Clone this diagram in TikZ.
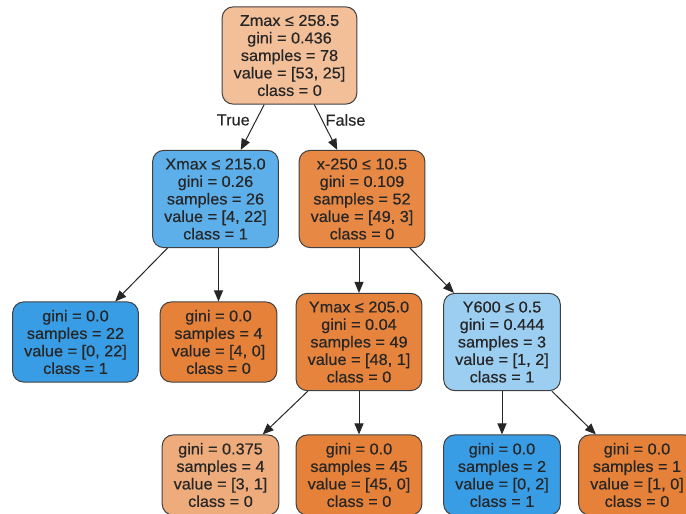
\documentclass[tikz,border=0pt]{standalone}
\usepackage{fontspec}
\setmainfont{Liberation Sans}[FakeStretch=1.03,FakeBold=0.4]
\usetikzlibrary{arrows.meta}
\definecolor{orpur}{HTML}{E58139}
\definecolor{blpur}{HTML}{399DE5}
\definecolor{orracine}{HTML}{F2BF99}
\definecolor{orx}{HTML}{E78945}
\definecolor{orymax}{HTML}{E6843D}
\definecolor{orclair}{HTML}{EEAB7B}
\definecolor{blxmax}{HTML}{5DAFEA}
\definecolor{blclair}{HTML}{9CCEF2}
\begin{document}
\begin{tikzpicture}[x=1pt,y=-1pt,
  noeud/.style={draw=black!75, line width=1pt, rounded corners=11pt, align=center,
    inner xsep=11.5pt, inner ysep=8pt, text=black!85,
    font=\fontsize{15.8}{17.5}\selectfont},
  arete/.style={draw=black!85, line width=1pt, -{Triangle[length=11pt,width=9pt]}},
  etiq/.style={inner sep=2pt, text=black!85, font=\fontsize{15.8}{17.5}\selectfont}]
\useasboundingbox (0,0) rectangle (686,514);
\clip (0,0) rectangle (686,514);
% racine
\node [noeud, fill=orracine] (racine) at (289.5,55.5) {Zmax ≤ 258.5\\gini = 0.436\\samples = 78\\value = [53, 25]\\class = 0};
% niveau 1
\node [noeud, fill=blxmax] (xmax) at (215.5,199) {Xmax ≤ 215.0\\gini = 0.26\\samples = 26\\value = [4, 22]\\class = 1};
\node [noeud, fill=orx] (x250) at (362,199) {x-250 ≤ 10.5\\gini = 0.109\\samples = 52\\value = [49, 3]\\class = 0};
% niveau 2
\node [noeud, fill=blpur] (f22) at (75.5,342) {gini = 0.0\\samples = 22\\value = [0, 22]\\class = 1};
\node [noeud, fill=orpur] (f4) at (218.5,342) {gini = 0.0\\samples = 4\\value = [4, 0]\\class = 0};
\node [noeud, fill=orymax] (ymax) at (359,342) {Ymax ≤ 205.0\\gini = 0.04\\samples = 49\\value = [48, 1]\\class = 0};
\node [noeud, fill=blclair] (y600) at (502,342) {Y600 ≤ 0.5\\gini = 0.444\\samples = 3\\value = [1, 2]\\class = 1};
% niveau 3
\node [noeud, fill=orclair] (f375) at (220.5,475) {gini = 0.375\\samples = 4\\value = [3, 1]\\class = 0};
\node [noeud, fill=orpur] (f45) at (359,475) {gini = 0.0\\samples = 45\\value = [45, 0]\\class = 0};
\node [noeud, fill=blpur] (f2) at (502,475) {gini = 0.0\\samples = 2\\value = [0, 2]\\class = 1};
\node [noeud, fill=orpur] (f1) at (637,475) {gini = 0.0\\samples = 1\\value = [1, 0]\\class = 0};
% aretes
\draw [arete] (racine) -- node [etiq, pos=0.34, left=4pt] {True} (xmax);
\draw [arete] (racine) -- node [etiq, pos=0.34, right=1pt] {False} (x250);
\draw [arete] (xmax) -- (f22);
\draw [arete] (xmax.south -| f4) -- (f4);
\draw [arete] (x250.south -| ymax) -- (ymax);
\draw [arete] (x250) -- (y600);
\draw [arete] (ymax) -- (f375);
\draw [arete] (ymax) -- (f45);
\draw [arete] (y600) -- (f2);
\draw [arete] (y600) -- (f1);
\end{tikzpicture}
\end{document}
